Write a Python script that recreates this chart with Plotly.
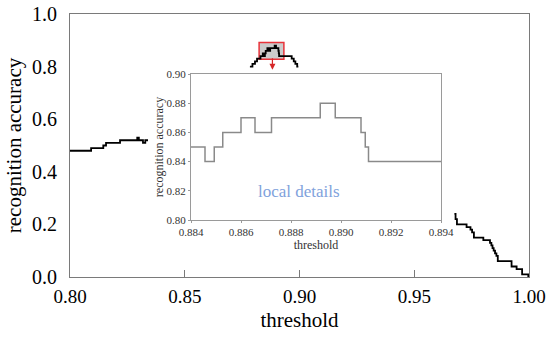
import plotly.graph_objects as go

# ---- data ----
# main curve, visible segment 1 (step, hv)
seg1_x = [0.8000, 0.8092, 0.8145, 0.8157, 0.8218, 0.8293, 0.8300, 0.8318, 0.8328, 0.8340]
seg1_y = [0.48, 0.49, 0.50, 0.51, 0.52, 0.53, 0.52, 0.51, 0.52, 0.52]

# inset (local details) curve
inset_x = [0.88400, 0.88456, 0.88493, 0.88527, 0.88600, 0.88656, 0.88722, 0.88917,
           0.88977, 0.89080, 0.89097, 0.89110, 0.89400]
inset_y = [0.85, 0.84, 0.85, 0.86, 0.87, 0.86, 0.87, 0.88, 0.87, 0.86, 0.85, 0.84, 0.84]

# main curve around the peak, outside the inset window
seg2_left_x = [0.8784, 0.8795, 0.8806, 0.8815, 0.8830]
seg2_left_y = [0.80, 0.81, 0.82, 0.83, 0.84]
seg2_right_x = [0.8966, 0.8975, 0.8982, 0.8990, 0.8995]
seg2_right_y = [0.83, 0.82, 0.81, 0.80, 0.80]

# main curve, visible segment 3
seg3_x = [0.9675, 0.9680, 0.9686, 0.9728, 0.9745, 0.9752, 0.9760, 0.9801, 0.9830, 0.9836,
          0.9841, 0.9846, 0.9852, 0.9858, 0.9864, 0.9924, 0.9946, 0.9970, 0.9997, 1.0000]
seg3_y = [0.24, 0.22, 0.20, 0.19, 0.18, 0.17, 0.15, 0.14, 0.13, 0.12,
          0.11, 0.10, 0.09, 0.08, 0.06, 0.04, 0.03, 0.01, 0.00, 0.00]

main_xticks = [0.80, 0.85, 0.90, 0.95, 1.00]
main_yticks = [0.0, 0.2, 0.4, 0.6, 0.8, 1.0]
inset_xticks = [0.884, 0.886, 0.888, 0.890, 0.892, 0.894]
inset_yticks = [0.80, 0.82, 0.84, 0.86, 0.88, 0.90]

seg2_x = seg2_left_x + [v for v in inset_x if v < 0.894] + seg2_right_x
seg2_y = seg2_left_y + [inset_y[i] for i, v in enumerate(inset_x) if v < 0.894] + seg2_right_y

FONT = "Liberation Serif"
AXC = "#7a7a7a"

fig = go.Figure()
for xs, ys in [(seg1_x, seg1_y), (seg2_x, seg2_y), (seg3_x, seg3_y)]:
    fig.add_trace(go.Scatter(x=xs, y=ys, mode="lines", line=dict(color="black", width=1.8, shape="hv"),
                             xaxis="x", yaxis="y", showlegend=False, hoverinfo="skip"))

fig.add_trace(go.Scatter(x=inset_x, y=inset_y, mode="lines",
                         line=dict(color="#8a8a8a", width=1.5, shape="hv"),
                         xaxis="x2", yaxis="y2", showlegend=False, hoverinfo="skip"))

# inset domain in paper coords (main plot 70..529 x, 14..277 y)
ix0, ix1 = (191 - 70) / 459, (441 - 70) / 459
iy0, iy1 = (277 - 220) / 263, (277 - 74) / 263

fig.update_layout(
    width=550, height=339,
    margin=dict(l=70, r=21, t=14, b=62),
    paper_bgcolor="white", plot_bgcolor="white",
    font=dict(family=FONT, color="black"),
    xaxis=dict(range=[0.8, 1.0], tickvals=main_xticks, ticktext=[f"{v:.2f}" for v in main_xticks],
               automargin=False, ticklabeloverflow="allow",
               showgrid=False, zeroline=False, showline=True, mirror=True, linecolor=AXC, linewidth=1,
               ticks="inside", ticklen=7, tickcolor=AXC, tickfont=dict(size=19, family=FONT),
               ticklabelstandoff=2,
               title=dict(text="threshold", font=dict(size=21, family=FONT), standoff=6)),
    yaxis=dict(range=[0, 1.0], tickvals=main_yticks, ticktext=[f"{v:.1f}" for v in main_yticks],
               automargin=False, ticklabeloverflow="allow",
               showgrid=False, zeroline=False, showline=True, mirror=True, linecolor=AXC, linewidth=1,
               ticks="", tickfont=dict(size=20, family=FONT), ticklabelstandoff=8,
               title=dict(text="recognition accuracy", font=dict(size=21, family=FONT), standoff=4)),
    xaxis2=dict(domain=[ix0, ix1], anchor="y2", range=[0.884, 0.894], tickvals=inset_xticks,
                ticktext=[f"{v:.3f}" for v in inset_xticks], automargin=False,
                showgrid=False, zeroline=False, showline=True, mirror=True, linecolor="#9a9a9a", linewidth=1.2,
                ticks="outside", ticklen=2, tickcolor="#9a9a9a", tickfont=dict(size=11, family=FONT, color="#333"),
                title=dict(text="threshold", font=dict(size=12, family=FONT, color="#333"), standoff=2)),
    yaxis2=dict(domain=[iy0, iy1], anchor="x2", range=[0.80, 0.90], tickvals=inset_yticks,
                ticktext=[f"{v:.2f}" for v in inset_yticks], automargin=False,
                showgrid=False, zeroline=False, showline=True, mirror=True, linecolor="#9a9a9a", linewidth=1.2,
                ticks="outside", ticklen=2, tickcolor="#9a9a9a", tickfont=dict(size=11, family=FONT, color="#333"),
                title=dict(text="recognition accuracy", font=dict(size=12, family=FONT, color="#333"), standoff=0)),
    shapes=[dict(type="rect", xref="x", yref="y", x0=0.8824, x1=0.8932, y0=0.828, y1=0.892,
                 fillcolor="rgba(160,160,160,0.55)", line=dict(color="#e8333a", width=1.5), layer="below")],
    annotations=[
        dict(x=0.8882, y=0.788, xref="x", yref="y", ax=0, ay=-13, axref="pixel", ayref="pixel",
             showarrow=True, arrowhead=2, arrowsize=1, arrowwidth=1.2, arrowcolor="#d62728", text=""),
        dict(x=0.88832, y=0.8192, xref="x2", yref="y2", text="local details", showarrow=False,
             font=dict(size=17, family=FONT, color="#7fa2dc")),
    ],
)

fig.write_html("out.html", config={"displayModeBar": False},
               post_script="document.body.style.margin='0';document.body.style.overflow='hidden';")
